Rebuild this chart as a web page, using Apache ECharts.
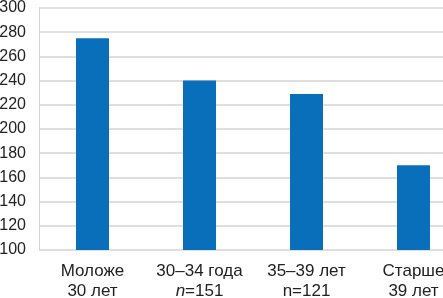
<!DOCTYPE html>
<html>
<head>
<meta charset="utf-8">
<script src="https://cdn.jsdelivr.net/npm/echarts@6/dist/echarts.min.js"></script>
<style>
  html, body { margin: 0; padding: 0; background: #fff; }
  #chart { width: 443px; height: 298px; }
</style>
</head>
<body>
<div id="chart"></div>
<script>
// age groups, second line of each label kept apart
const categories = ['Моложе\n30 лет', '30–34 года\n{i|n}=151', '35–39 лет\nn=121', 'Старше\n39 лет'];
const values = [275, 240, 229, 170];
const yTicks = { min: 100, max: 300, step: 20 };

const myChart = echarts.init(document.getElementById('chart'));

const option = {
  animation: false,
  grid: { left: 39, top: 8, width: 428, bottom: 48, outerBoundsMode: 'none', containLabel: false },
  xAxis: {
    type: 'category',
    data: categories,
    axisLine: { show: false },
    axisTick: { show: false },
    axisLabel: {
      interval: 0,
      hideOverlap: false,
      margin: 11,
      fontFamily: 'Liberation Sans',
      fontSize: 17,
      color: '#222',
      lineHeight: 20,
      rich: {
        i: { fontStyle: 'italic', fontFamily: 'Liberation Sans', fontSize: 17, color: '#222' }
      }
    }
  },
  yAxis: {
    type: 'value',
    min: yTicks.min,
    max: yTicks.max,
    interval: yTicks.step,
    axisLine: { show: true, lineStyle: { color: '#d4d4d4', width: 1 } },
    axisTick: { show: false },
    splitLine: { lineStyle: { color: '#d4d4d4', width: 1.5 } },
    axisLabel: {
      margin: 13,
      fontFamily: 'Liberation Sans',
      fontSize: 16,
      color: '#222'
    }
  },
  series: [{
    type: 'bar',
    data: values,
    barWidth: 33,
    itemStyle: { color: '#0a6fba' }
  }]
};

myChart.setOption(option);
</script>
</body>
</html>
